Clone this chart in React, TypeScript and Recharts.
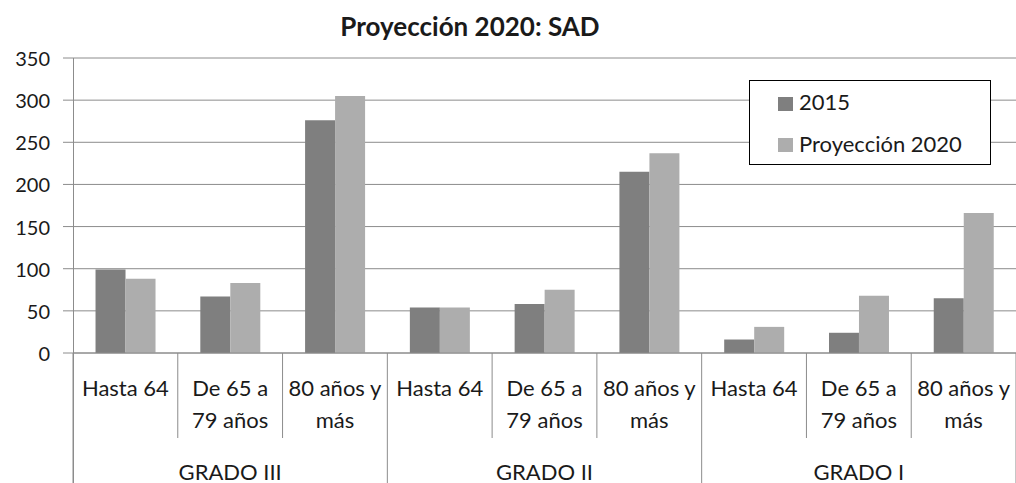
import React from 'react';
import { BarChart, Bar, XAxis, YAxis, CartesianGrid } from 'recharts';

const categories = ['Hasta 64', 'De 65 a 79 años', '80 años y más', 'Hasta 64', 'De 65 a 79 años', '80 años y más', 'Hasta 64', 'De 65 a 79 años', '80 años y más'];
const categoryLines = [['Hasta 64'], ['De 65 a', '79 años'], ['80 años y', 'más']];
const groups = ['GRADO III', 'GRADO II', 'GRADO I'];
const series2015 = [99, 67, 276, 54, 58, 215, 16, 24, 65];
const series2020 = [88, 83, 305, 54, 75, 237, 31, 68, 166];
const yTicks = [0, 50, 100, 150, 200, 250, 300, 350];
const seriesNames = ['2015', 'Proyección 2020'];
const colors = ['#7f7f7f', '#adadad'];
const title = 'Proyección 2020: SAD';

const data = categories.map((c, i) => ({ cat: c + '|' + i, v2015: series2015[i], v2020: series2020[i] }));

const FONT = 'Lato, "Open Sans", sans-serif';
const W = 1016;
const H = 483;
const LEFT = 73;
const TOP = 58;
const AXIS_H = 130;
const TEXT = '#1a1a1a';
const LINE = '#8c8c8c';

const XTick = (props: any) => {
  const { x, y, payload } = props;
  const idx: number = payload.index;
  const half = payload.offset ?? (W - LEFT) / categories.length / 2;
  const lines = categoryLines[idx % 3];
  const leftX = x - half;
  const rightX = x + half;
  const isGroupStart = idx % 3 === 0;
  return (
    <g>
      <line x1={leftX} y1={y} x2={leftX} y2={isGroupStart ? H : y + 85} stroke={LINE} strokeWidth={1} />
      {idx === categories.length - 1 && (
        <line x1={rightX} y1={y} x2={rightX} y2={H} stroke={LINE} strokeWidth={1} />
      )}
      {lines.map((l, k) => (
        <text key={k} x={x} y={y + 43 + k * 32} textAnchor="middle" fontFamily={FONT} fontSize={22} fill={TEXT}>
          {l}
        </text>
      ))}
      {idx % 3 === 1 && (
        <text x={x} y={y + 127} textAnchor="middle" fontFamily={FONT} fontSize={22} fill={TEXT}>
          {groups[Math.floor(idx / 3)]}
        </text>
      )}
    </g>
  );
};

const YTick = (props: any) => {
  const { y, payload } = props;
  return (
    <g>
      <line x1={LEFT - 10} y1={y} x2={LEFT} y2={y} stroke={LINE} />
      <text x={LEFT - 23} y={y + 8} textAnchor="end" fontFamily={FONT} fontSize={20} fill={TEXT}>
        {payload.value}
      </text>
    </g>
  );
};

export default function App() {
  return (
    <div style={{ position: 'absolute', left: 0, top: 0, width: W, height: H, background: '#fff', overflow: 'hidden' }}>
      <BarChart
        width={W}
        height={H}
        data={data}
        margin={{ top: TOP, right: 0, bottom: 0, left: 0 }}
        barCategoryGap="21.5%"
        barGap={0}
      >
        <CartesianGrid vertical={false} stroke={LINE} strokeWidth={1} />
        <YAxis
          width={LEFT}
          domain={[0, 350]}
          ticks={yTicks}
          interval={0}
          tickLine={false}
          axisLine={false}
          tickSize={0}
          tickMargin={0}
          tick={<YTick />}
        />
        <XAxis
          dataKey="cat"
          height={AXIS_H}
          interval={0}
          tickLine={false}
          tickSize={0}
          tickMargin={0}
          axisLine={{ stroke: LINE }}
          tick={<XTick />}
        />
        <Bar dataKey="v2015" name={seriesNames[0]} fill={colors[0]} isAnimationActive={false} />
        <Bar dataKey="v2020" name={seriesNames[1]} fill={colors[1]} isAnimationActive={false} />
      </BarChart>
      <svg
        width={W}
        height={H}
        style={{ position: 'absolute', left: 0, top: 0, pointerEvents: 'none' }}
      >
        <line x1={LEFT + 0.5} y1={TOP} x2={LEFT + 0.5} y2={H} stroke={LINE} />
        <text x={470} y={36} textAnchor="middle" fontFamily={FONT} fontWeight="bold" fontSize={26} fill={TEXT}>
          {title}
        </text>
        <rect x={749.5} y={80.5} width={241} height={84} fill="#fff" stroke="#000" strokeWidth={1} />
        {seriesNames.map((n, i) => (
          <g key={n}>
            <rect x={778} y={97 + i * 41} width={15} height={14} fill={colors[i]} />
            <text x={799} y={110 + i * 42} fontFamily={FONT} fontSize={22} fill={TEXT}>
              {n}
            </text>
          </g>
        ))}
      </svg>
    </div>
  );
}
